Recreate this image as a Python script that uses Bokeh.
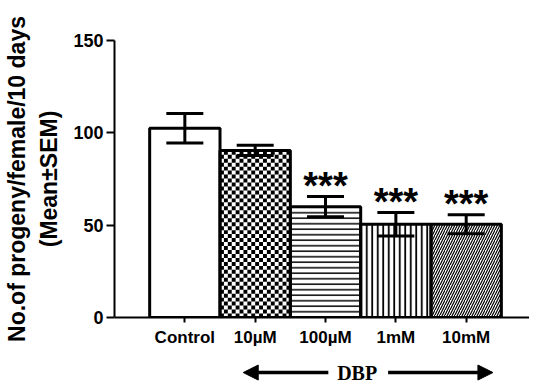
from bokeh.plotting import figure
from bokeh.layouts import column
from bokeh.models import (ColumnDataSource, Range1d, FixedTicker, Whisker, TeeHead,
                          Arrow, NormalHead, Label)
from bokeh.core.properties import value
from bokeh.embed import file_html
from bokeh.resources import INLINE

# ---- data ----
categories = ["Control", "10\u00b5M", "100\u00b5M", "1mM", "10mM"]
means = [102.5, 90.5, 60.0, 50.5, 50.5]
sems = [8.0, 2.8, 5.5, 6.3, 5.2]
significance = ["", "", "***", "***", "***"]
y_ticks = [0, 50, 100, 150]
group_label = "DBP"

# ---- styles ----
patterns = [" ", " ", "horizontal_line", "vertical_line", "right_diagonal_line"]
hatch_scales = [6, 6, 5.5, 5.5, 5]
hatch_weights = [1, 1, 1.5, 1.8, 1.2]

xs = list(range(1, len(categories) + 1))
src = ColumnDataSource(dict(
    x=xs, top=means,
    upper=[m + s for m, s in zip(means, sems)],
    lower=[m - s for m, s in zip(means, sems)],
    sig=significance, pat=patterns, hs=hatch_scales, hw=hatch_weights,
))

W = 529
p = figure(width=W, height=349, output_backend="svg", toolbar_location=None,
           x_range=Range1d(0, 5.9), y_range=Range1d(0, 150),
           min_border_left=106, min_border_right=0, min_border_top=40,
           min_border_bottom=29)
p.outline_line_color = None
p.xgrid.visible = False
p.ygrid.visible = False

# bars (fill + hatch)
p.vbar(x="x", top="top", width=1.0, bottom=0, source=src,
       fill_color="white", line_color=None,
       hatch_pattern="pat", hatch_scale="hs", hatch_weight="hw",
       hatch_color="black")

# checkerboard texture for the 10 µM bar
ci = 1
n_x = 18
cell_w = 1.0 / n_x
cell_h = 2.15
cx, cy, ch = [], [], []
row = 0
y0 = 0.0
while y0 < means[ci] - 1e-9:
    h = min(cell_h, means[ci] - y0)
    for col in range(n_x):
        if (row + col) % 2 == 0:
            cx.append(xs[ci] - 0.5 + (col + 0.5) * cell_w)
            cy.append(y0 + h / 2)
            ch.append(h)
    y0 += cell_h
    row += 1
p.rect(x=cx, y=cy, width=cell_w, height=ch, fill_color="black", line_color=None)

# bar outlines
p.vbar(x="x", top="top", width=1.0, bottom=0, source=src,
       fill_color=None, line_color="black", line_width=3)

w = Whisker(source=src, base="x", upper="upper", lower="lower",
            line_width=3, line_color="black", level="overlay",
            upper_head=TeeHead(size=37, line_width=3, line_color="black"),
            lower_head=TeeHead(size=37, line_width=3, line_color="black"))
p.add_layout(w)

p.text(x="x", y="upper", text="sig", source=src, text_align="center",
       text_baseline="alphabetic", y_offset=-11,
       text_font=value("Liberation Sans"), text_font_style="bold",
       text_font_size="38px", text_color="black")

# axes
for ax in (p.xaxis[0], p.yaxis[0]):
    ax.axis_line_width = 2
    ax.axis_line_color = "black"
    ax.major_tick_line_width = 2
    ax.major_tick_line_color = "black"
    ax.minor_tick_line_color = None
    ax.major_tick_in = 0
    ax.major_label_text_font = "Liberation Sans"
    ax.major_label_text_font_style = "bold"
    ax.major_label_text_color = "black"

p.yaxis.ticker = FixedTicker(ticks=y_ticks)
p.yaxis.major_tick_out = 8
p.yaxis.major_label_text_font_size = "18px"
p.yaxis.major_label_standoff = 3
p.yaxis.axis_label = "No.of progeny/female/10 days\n(Mean\u00b1SEM)"
p.yaxis.axis_label_text_font = "Liberation Sans"
p.yaxis.axis_label_text_font_style = "bold"
p.yaxis.axis_label_text_font_size = "23px"
p.yaxis.axis_label_text_color = "black"
p.yaxis.axis_label_text_line_height = 1.25
p.yaxis.axis_label_standoff = 8

p.xaxis.ticker = FixedTicker(ticks=xs)
p.xaxis.major_label_overrides = {x: c for x, c in zip(xs, categories)}
p.xaxis.major_tick_out = 5
p.xaxis.major_label_text_font_size = "17px"
p.xaxis.major_label_standoff = 5

# DBP group annotation in a strip below, sharing the x range
q = figure(width=W, height=36, output_backend="svg", toolbar_location=None,
           x_range=p.x_range, y_range=Range1d(0, 1),
           min_border_left=106, min_border_right=0, min_border_top=0,
           min_border_bottom=0)
q.outline_line_color = None
q.xgrid.visible = False
q.ygrid.visible = False
q.xaxis.visible = False
q.yaxis.visible = False

mid = sum(xs[1:]) / len(xs[1:])
y_arrow = 0.36
head = dict(size=15, fill_color="black", line_color="black", line_width=1)
q.add_layout(Arrow(end=NormalHead(**head), x_start=mid - 0.46, y_start=y_arrow,
                   x_end=1.83, y_end=y_arrow, line_width=3.5, line_color="black"))
q.add_layout(Arrow(end=NormalHead(**head), x_start=mid + 0.39, y_start=y_arrow,
                   x_end=5.38, y_end=y_arrow, line_width=3.5, line_color="black"))
q.add_layout(Label(x=mid - 0.05, y=y_arrow, text=group_label, text_align="center",
                   text_baseline="middle", text_font="Liberation Serif",
                   text_font_style="bold", text_font_size="20px",
                   text_color="black"))

open("out.html", "w").write(file_html(column(p, q), INLINE))
